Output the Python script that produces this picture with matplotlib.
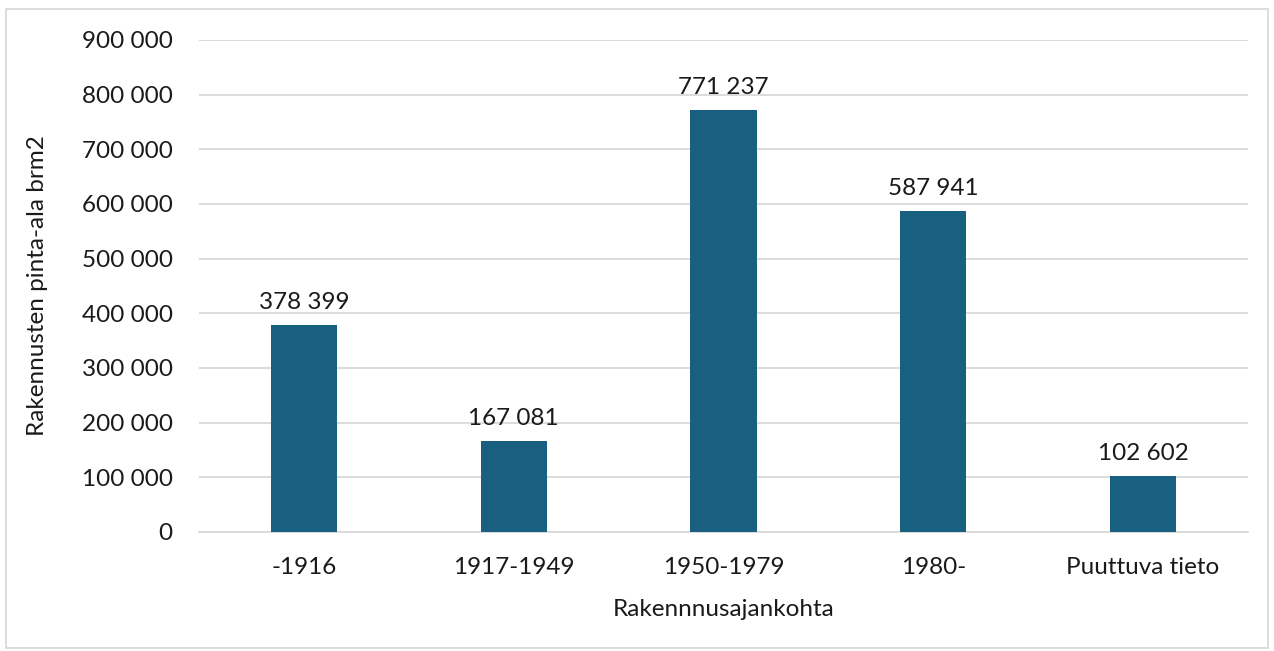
import matplotlib.pyplot as plt
from matplotlib.patches import Rectangle

categories = ['-1916', '1917-1949', '1950-1979', '1980-', 'Puuttuva tieto']
values = [378399, 167081, 771237, 587941, 102602]
yticks = [0, 100000, 200000, 300000, 400000, 500000, 600000, 700000, 800000, 900000]


def fmt(v):
    # thousands separated by a space, Finnish style
    return '{:,}'.format(v).replace(',', ' ')


plt.rcParams['font.family'] = ['Lato', 'DejaVu Sans']
fs = 17.5

fig = plt.figure(figsize=(12.74, 6.51), dpi=100)
ax = fig.add_axes([0.1562, 0.1828, 0.8234, 0.7558])

bars = ax.bar(range(len(categories)), values, width=0.315, color='#185f80', zorder=3)
for b, v in zip(bars, values):
    ax.text(b.get_x() + b.get_width() / 2, v + 22000, fmt(v),
            ha='center', va='bottom', fontsize=fs, color='#1a1a1a')

ax.set_xlim(-0.5, len(categories) - 0.5)
ax.set_ylim(0, 900000)
ax.set_yticks(yticks)
ax.set_yticklabels([fmt(t) for t in yticks])
ax.set_xticks(range(len(categories)))
ax.set_xticklabels(categories)
ax.tick_params(axis='y', length=0, pad=19, labelsize=fs, labelcolor='#1a1a1a')
ax.tick_params(axis='x', length=0, pad=18, labelsize=fs, labelcolor='#1a1a1a')

ax.grid(axis='y', color='#d9d9d9', linewidth=1.3, zorder=0)
for s in ['top', 'right', 'left']:
    ax.spines[s].set_visible(False)
ax.spines['bottom'].set_color('#d9d9d9')
ax.spines['bottom'].set_linewidth(1.3)

ax.set_xlabel('Rakennnusajankohta', fontsize=fs, color='#1a1a1a', labelpad=15)
ax.set_ylabel('Rakennusten pinta-ala brm2', fontsize=fs, color='#1a1a1a', labelpad=24)

# light border around the whole chart
fig.patches.append(Rectangle((0.005, 0.004), 0.99, 0.982, transform=fig.transFigure,
                             fill=False, edgecolor='#d9d9d9', linewidth=1.3))

fig.savefig('out.png', dpi=100)
